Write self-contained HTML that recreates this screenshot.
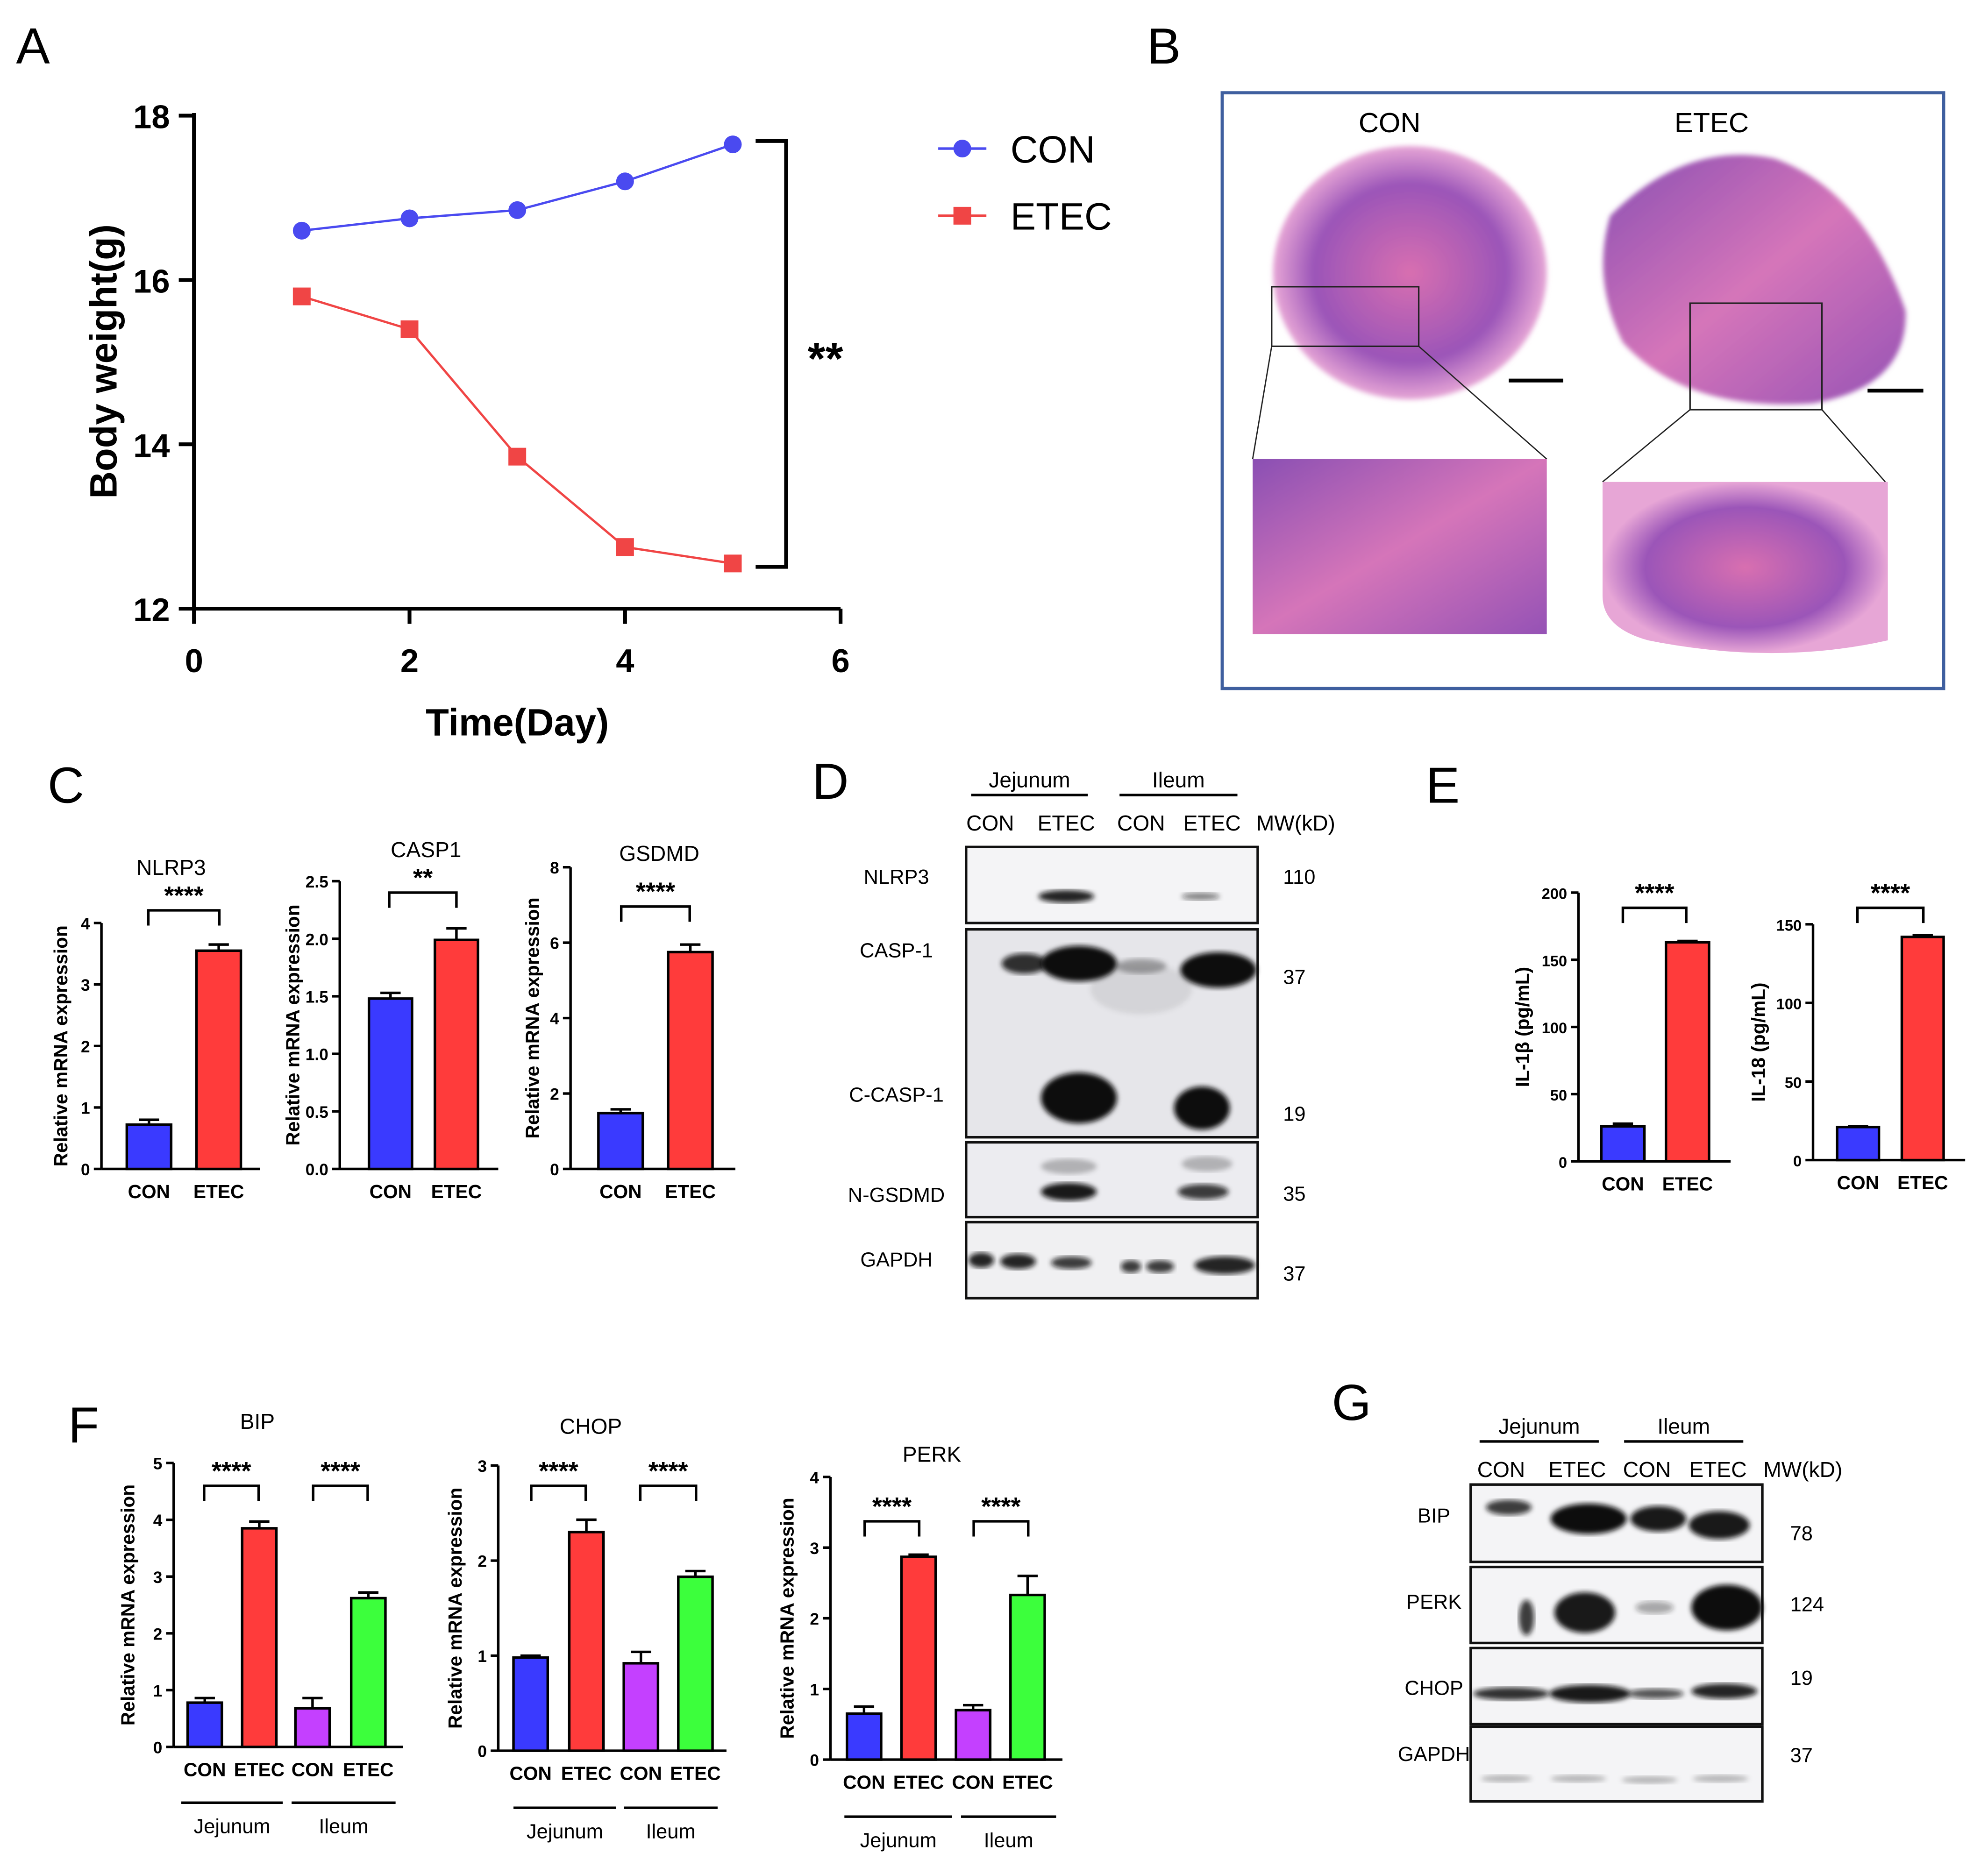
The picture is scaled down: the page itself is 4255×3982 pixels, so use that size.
<!DOCTYPE html>
<html><head><meta charset="utf-8"><style>
html,body{margin:0;padding:0;background:#fff}
svg{display:block}
text{font-family:"Liberation Sans",sans-serif}
</style></head><body>
<svg id="fig" xmlns="http://www.w3.org/2000/svg" width="4255" height="3982" viewBox="0 0 1568 1467">
<defs>
<filter id="blur2"><feGaussianBlur stdDeviation="2"/></filter>
<filter id="blur4"><feGaussianBlur stdDeviation="4"/></filter>
<radialGradient id="tis1" cx="50%" cy="50%" r="50%"><stop offset="0" stop-color="#d86fb0"/><stop offset="0.7" stop-color="#9b55b8"/><stop offset="1" stop-color="#e7a6d6"/></radialGradient>
<linearGradient id="tis2" x1="0" y1="0" x2="1" y2="1"><stop offset="0" stop-color="#8a4fb3"/><stop offset="0.5" stop-color="#d575b9"/><stop offset="1" stop-color="#9552b5"/></linearGradient>
</defs>
<rect width="1568" height="1467" fill="#fff"/>
<g id="root"></g>
</svg>
<script>
// ---- Panel A data ----
const daysA = [1,2,3,4,5];
const conA = [16.6,16.75,16.85,17.2,17.65];
const etecA = [15.8,15.4,13.85,12.75,12.55];
const xTicksA = [0,2,4,6];
const yTicksA = [12,14,16,18];
// ---- Panel C data ----
const catsC = ["CON","ETEC"];
const nlrp3Vals = [0.72,3.55]; const nlrp3Err=[0.08,0.1];
const casp1Vals = [1.48,1.99]; const casp1Err=[0.05,0.1];
const gsdmdVals = [1.48,5.75]; const gsdmdErr=[0.1,0.2];
const nlrp3Ticks=[0,1,2,3,4]; const casp1Ticks=[0,0.5,1.0,1.5,2.0,2.5]; const gsdmdTicks=[0,2,4,6,8];
// ---- Panel E data ----
const il1bVals=[26,163]; const il1bErr=[2,1]; const il1bTicks=[0,50,100,150,200];
const il18Vals=[21,142]; const il18Err=[0.5,1]; const il18Ticks=[0,50,100,150];
// ---- Panel F data ----
const catsF=["CON","ETEC","CON","ETEC"];
const bipVals=[0.78,3.85,0.68,2.62]; const bipErr=[0.08,0.12,0.18,0.1]; const bipTicks=[0,1,2,3,4,5];
const chopVals=[0.98,2.3,0.92,1.83]; const chopErr=[0.02,0.13,0.12,0.06]; const chopTicks=[0,1,2,3];
const perkVals=[0.65,2.87,0.7,2.33]; const perkErr=[0.1,0.03,0.07,0.27]; const perkTicks=[0,1,2,3,4];

const NS="http://www.w3.org/2000/svg";
const root=document.getElementById('root');
function el(tag,attrs,parent,txt){const e=document.createElementNS(NS,tag);for(const k in attrs)e.setAttribute(k,attrs[k]);if(txt!==undefined)e.textContent=txt;(parent||root).appendChild(e);return e;}
function tx(x,y,s,size,opts,parent){opts=opts||{};const a={x:x,y:y,'font-size':size,fill:opts.fill||'#000','text-anchor':opts.anchor||'middle'};if(opts.bold)a['font-weight']='bold';if(opts.rot)a.transform='rotate(-90 '+x+' '+y+')';const e=el('text',a,parent,s);


return e;}

// Panel letters
[["A",26,50],["B",918,50],["C",52,633],["D",655,630],["E",1138,633],["F",66,1138],["G",1066,1120]].forEach(p=>{tx(p[1],p[2],p[0],40,{name:'panel-letter-'+p[0].toLowerCase()});});

// ---- Panel A ----
(function(){
const g=el('g',{});


const X=d=>153+d*85, Y=v=>480-(v-12)*64.83;
el('line',{x1:153,y1:480,x2:663,y2:480,stroke:'#000','stroke-width':3},g);
el('line',{x1:153,y1:89,x2:153,y2:480,stroke:'#000','stroke-width':3},g);
xTicksA.forEach(t=>{el('line',{x1:X(t),y1:480,x2:X(t),y2:492,stroke:'#000','stroke-width':3},g);tx(X(t),530,String(t),26,{bold:true,name:'x-tick-label'},g);});
yTicksA.forEach(t=>{el('line',{x1:141,y1:Y(t),x2:153,y2:Y(t),stroke:'#000','stroke-width':3},g);tx(134,Y(t)+10,String(t),26,{bold:true,anchor:'end',name:'y-tick-label'},g);});
tx(408,580,"Time(Day)",30,{bold:true,name:'x-axis-title'},g);
tx(92,285,"Body weight(g)",30,{bold:true,rot:true,name:'y-axis-title'},g);
const pl=(vals,c)=>{const pts=daysA.map((d,i)=>X(d)+','+Y(vals[i])).join(' ');const l=el('polyline',{points:pts,fill:'none',stroke:c,'stroke-width':1.8},g);};
pl(conA,'#4a4af0');pl(etecA,'#f04545');
daysA.forEach((d,i)=>{const c=el('circle',{cx:X(d),cy:Y(conA[i]),r:7,fill:'#4a4af0'},g);
const r=el('rect',{x:X(d)-7,y:Y(etecA[i])-7,width:14,height:14,fill:'#f04545'},g);});
el('polyline',{points:'596,111 620,111 620,447 596,447',fill:'none',stroke:'#000','stroke-width':3},g);
tx(651,295,"**",36,{bold:true,name:'significance-stars'},g);
el('line',{x1:740,y1:117,x2:778,y2:117,stroke:'#4a4af0','stroke-width':2},g);el('circle',{cx:759,cy:117,r:7,fill:'#4a4af0'},g);
tx(797,128,"CON",30,{anchor:'start',name:'legend-con'},g);
el('line',{x1:740,y1:170,x2:778,y2:170,stroke:'#f04545','stroke-width':2},g);el('rect',{x:752,y:163,width:14,height:14,fill:'#f04545'},g);
tx(797,181,"ETEC",30,{anchor:'start',name:'legend-etec'},g);
})();

// ---- Panel B ----
(function(){
const g=el('g',{});


el('rect',{x:964,y:73,width:569,height:470,fill:'#fff',stroke:'#3f5f9f','stroke-width':2.5},g);
tx(1096,104,"CON",22,{name:'con-label'},g);tx(1350,104,"ETEC",22,{name:'etec-label'},g);
el('ellipse',{cx:1112,cy:215,rx:108,ry:100,fill:'url(#tis1)',filter:'url(#blur2)'},g);
el('path',{d:'M1270,170 Q1330,110 1400,125 Q1470,150 1503,245 Q1505,305 1430,318 Q1330,325 1280,270 Q1255,220 1270,170Z',fill:'url(#tis2)',filter:'url(#blur2)'},g);
el('rect',{x:1003,y:226,width:116,height:47,fill:'none',stroke:'#222','stroke-width':1.2},g);
el('rect',{x:1333,y:239,width:104,height:84,fill:'none',stroke:'#222','stroke-width':1.2},g);
el('line',{x1:1190,y1:300,x2:1233,y2:300,stroke:'#000','stroke-width':3},g);
el('line',{x1:1473,y1:308,x2:1517,y2:308,stroke:'#000','stroke-width':3},g);
el('polyline',{points:'1003,273 988,362',fill:'none',stroke:'#222'},g);el('polyline',{points:'1119,273 1220,362',fill:'none',stroke:'#222'},g);
el('polyline',{points:'1333,323 1264,380',fill:'none',stroke:'#222'},g);el('polyline',{points:'1437,323 1487,380',fill:'none',stroke:'#222'},g);
el('rect',{x:988,y:362,width:232,height:138,fill:'url(#tis2)'},g);
el('path',{d:'M1264,380 L1489,380 L1489,505 Q1400,525 1300,505 Q1264,495 1264,470Z',fill:'url(#tis1)'},g);
})();

// ---- Generic bar chart ----
function barChart(o){
const g=el('g',{});


const ymax=o.ticks[o.ticks.length-1];
const Y=v=>o.y0-(v/ymax)*(o.y0-o.ytop);
el('line',{x1:o.ax,y1:o.ytop,x2:o.ax,y2:o.y0,stroke:'#000','stroke-width':2},g);
el('line',{x1:o.ax,y1:o.y0,x2:o.xend,y2:o.y0,stroke:'#000','stroke-width':2},g);
o.ticks.forEach(t=>{el('line',{x1:o.ax-6,y1:Y(t),x2:o.ax,y2:Y(t),stroke:'#000','stroke-width':2},g);tx(o.ax-9,Y(t)+5,o.tickFmt?o.tickFmt(t):String(t),o.tfs||13,{bold:true,anchor:'end',name:'y-tick-label'},g);});
o.vals.forEach((v,i)=>{const x=o.bx[i];
el('line',{x1:x+o.bw/2,y1:Y(v),x2:x+o.bw/2,y2:Y(v+o.err[i]),stroke:'#000','stroke-width':2},g);
el('line',{x1:x+o.bw/2-8,y1:Y(v+o.err[i]),x2:x+o.bw/2+8,y2:Y(v+o.err[i]),stroke:'#000','stroke-width':2},g);
const r=el('rect',{x:x,y:Y(v),width:o.bw,height:o.y0-Y(v),fill:o.colors[i],stroke:'#000','stroke-width':2},g);


tx(x+o.bw/2,o.y0+23,o.cats[i],o.cfs||15,{bold:true,name:'x-category-label'},g);});
tx(o.ylx,(o.y0+o.ytop)/2,o.ylabel,o.yfs||15,{bold:true,rot:true,name:'y-axis-title'},g);
if(o.title)tx(o.tx,o.ty,o.title,17,{name:'chart-title'},g);
(o.brackets||[]).forEach(b=>{el('polyline',{points:b[0]+','+(b[2]+12)+' '+b[0]+','+b[2]+' '+b[1]+','+b[2]+' '+b[1]+','+(b[2]+12),fill:'none',stroke:'#000','stroke-width':2},g);tx((b[0]+b[1])/2,b[2]-5,b[3],20,{bold:true,name:'significance-stars'},g);});
(o.groups||[]).forEach(b=>{el('line',{x1:b[0],y1:b[2],x2:b[1],y2:b[2],stroke:'#000','stroke-width':2},g);tx((b[0]+b[1])/2,b[2]+24,b[3],16,{name:'group-label'},g);});
}
const B='#3a3aff',R='#ff3b3b',P='#c440ff',G='#3cff3c';
barChart({name:'nlrp3-chart',ax:80,y0:922,ytop:728,xend:205,ticks:nlrp3Ticks,vals:nlrp3Vals,err:nlrp3Err,cats:catsC,bx:[100,155],bw:35,colors:[B,R],ylabel:'Relative mRNA expression',ylx:53,title:'NLRP3',tx:135,ty:690,brackets:[[117,173,718,'****']]});
barChart({name:'casp1-chart',ax:268,y0:922,ytop:695,xend:393,ticks:casp1Ticks,tickFmt:t=>t.toFixed(1),vals:casp1Vals,err:casp1Err,cats:catsC,bx:[291,343],bw:34,colors:[B,R],ylabel:'Relative mRNA expression',ylx:236,title:'CASP1',tx:336,ty:676,brackets:[[307,360,704,'**']]});
barChart({name:'gsdmd-chart',ax:450,y0:922,ytop:684,xend:580,ticks:gsdmdTicks,vals:gsdmdVals,err:gsdmdErr,cats:catsC,bx:[472,527],bw:35,colors:[B,R],ylabel:'Relative mRNA expression',ylx:425,title:'GSDMD',tx:520,ty:679,brackets:[[490,544,715,'****']]});
barChart({name:'il1b-chart',ax:1245,y0:916,ytop:704,xend:1365,ticks:il1bTicks,vals:il1bVals,err:il1bErr,cats:catsC,bx:[1263,1314],bw:34,colors:[B,R],ylabel:'IL-1β  (pg/mL)',ylx:1206,brackets:[[1280,1330,716,'****']],tfs:12});
barChart({name:'il18-chart',ax:1430,y0:915,ytop:729,xend:1550,ticks:il18Ticks,vals:il18Vals,err:il18Err,cats:catsC,bx:[1449,1500],bw:33,colors:[B,R],ylabel:'IL-18  (pg/mL)',ylx:1392,brackets:[[1465,1517,716,'****']],tfs:12});
barChart({name:'bip-chart',ax:137,y0:1378,ytop:1154,xend:318,ticks:bipTicks,vals:bipVals,err:bipErr,cats:catsF,bx:[148,191,233,277],bw:27,colors:[B,R,P,G],ylabel:'Relative mRNA expression',ylx:106,title:'BIP',tx:203,ty:1127,brackets:[[161,204,1172,'****'],[247,290,1172,'****']],groups:[[143,223,1422,'Jejunum'],[230,312,1422,'Ileum']]});
barChart({name:'chop-chart',ax:393,y0:1381,ytop:1156,xend:573,ticks:chopTicks,vals:chopVals,err:chopErr,cats:catsF,bx:[405,449,492,535],bw:27,colors:[B,R,P,G],ylabel:'Relative mRNA expression',ylx:364,title:'CHOP',tx:466,ty:1131,brackets:[[419,462,1172,'****'],[505,549,1172,'****']],groups:[[405,486,1426,'Jejunum'],[492,566,1426,'Ileum']]});
barChart({name:'perk-chart',ax:655,y0:1388,ytop:1165,xend:838,ticks:perkTicks,vals:perkVals,err:perkErr,cats:catsF,bx:[668,711,754,797],bw:27,colors:[B,R,P,G],ylabel:'Relative mRNA expression',ylx:626,title:'PERK',tx:735,ty:1153,brackets:[[682,725,1200,'****'],[768,811,1200,'****']],groups:[[666,751,1433,'Jejunum'],[758,833,1433,'Ileum']]});

// ---- Western blots ----
function blot(o){
const g=el('g',{});


el('line',{x1:o.j[0],y1:o.hy,x2:o.j[1],y2:o.hy,stroke:'#000','stroke-width':2},g);
el('line',{x1:o.i[0],y1:o.hy,x2:o.i[1],y2:o.hy,stroke:'#000','stroke-width':2},g);
tx((o.j[0]+o.j[1])/2,o.hy-6,'Jejunum',17,{name:'jejunum-header'},g);
tx((o.i[0]+o.i[1])/2,o.hy-6,'Ileum',17,{name:'ileum-header'},g);
o.lanes.forEach((x,k)=>tx(x,o.hy+28,k%2?'ETEC':'CON',17,{name:'lane-label'},g));
tx(o.mwx,o.hy+28,'MW(kD)',17,{name:'mw-header'},g);
o.rows.forEach(r=>{
el('rect',{x:o.bx0,y:r.y,width:o.bx1-o.bx0,height:r.h,fill:r.bg||'#f4f4f6',stroke:'#111','stroke-width':2},g);
tx(o.labx,r.ly,r.label,16,{name:'blot-row-label'},g);
tx(o.mwx-10,r.my,r.mw,16,{anchor:'start',name:'mw-value'},g);
r.bands.forEach(b=>{const e=el('ellipse',{cx:b[0],cy:b[1],rx:b[2],ry:b[3],fill:'#111','fill-opacity':b[4],filter:'url(#blur2)'},g);});
});}
blot({name:'panel-d-western-blot',hy:627,j:[766,858],i:[883,976],lanes:[781,841,900,956],mwx:1022,bx0:762,bx1:992,labx:707,rows:[
{y:668,h:60,label:'NLRP3',ly:697,mw:'110',my:697,bands:[[841,707,22,5,0.9],[947,707,15,3,0.5]]},
{y:733,h:164,label:'CASP-1',ly:755,mw:'37',my:776,bg:'#e6e6ea',label2:1,bands:[[808,760,18,8,0.85],[851,760,30,14,1],[900,762,20,6,0.3],[961,765,30,14,1],[851,866,30,20,1],[948,874,22,17,1],[900,780,40,20,0.08]]},
{y:901,h:59,label:'N-GSDMD',ly:948,mw:'35',my:947,bg:'#ececf0',bands:[[843,940,22,7,0.95],[949,940,20,6,0.8],[843,920,22,6,0.25],[952,918,20,6,0.25]]},
{y:964,h:60,label:'GAPDH',ly:999,mw:'37',my:1010,bg:'#f0f0f2',bands:[[774,994,10,6,0.9],[803,995,14,6,0.9],[845,996,16,5,0.8],[892,999,8,5,0.8],[915,999,11,5,0.8],[966,998,24,7,0.9]]}
]});
tx(707,869,'C-CASP-1',16,{name:'blot-row-label'});
tx(1012,884,'19',16,{anchor:'start',name:'mw-value'});
blot({name:'panel-g-western-blot',hy:1137,j:[1167,1261],i:[1281,1375],lanes:[1184,1244,1299,1355],mwx:1422,bx0:1160,bx1:1390,labx:1131,rows:[
{y:1171,h:61,label:'BIP',ly:1201,mw:'78',my:1215,bands:[[1190,1189,18,6,0.8],[1253,1198,30,12,1],[1308,1198,22,10,0.95],[1356,1203,24,11,0.95]]},
{y:1236,h:60,label:'PERK',ly:1269,mw:'124',my:1271,bands:[[1204,1276,6,14,0.8],[1250,1272,24,16,0.95],[1305,1268,15,5,0.35],[1362,1268,28,18,1]]},
{y:1300,h:60,label:'CHOP',ly:1337,mw:'19',my:1329,bands:[[1192,1336,30,5,0.85],[1254,1336,32,7,0.95],[1306,1336,22,4,0.7],[1360,1334,26,6,0.9]]},
{y:1362,h:59,label:'GAPDH',ly:1389,mw:'37',my:1390,bands:[[1188,1403,20,3,0.25],[1245,1403,22,3,0.25],[1301,1404,22,3,0.25],[1357,1403,22,3,0.25]]}
]});
</script>
</body></html>
